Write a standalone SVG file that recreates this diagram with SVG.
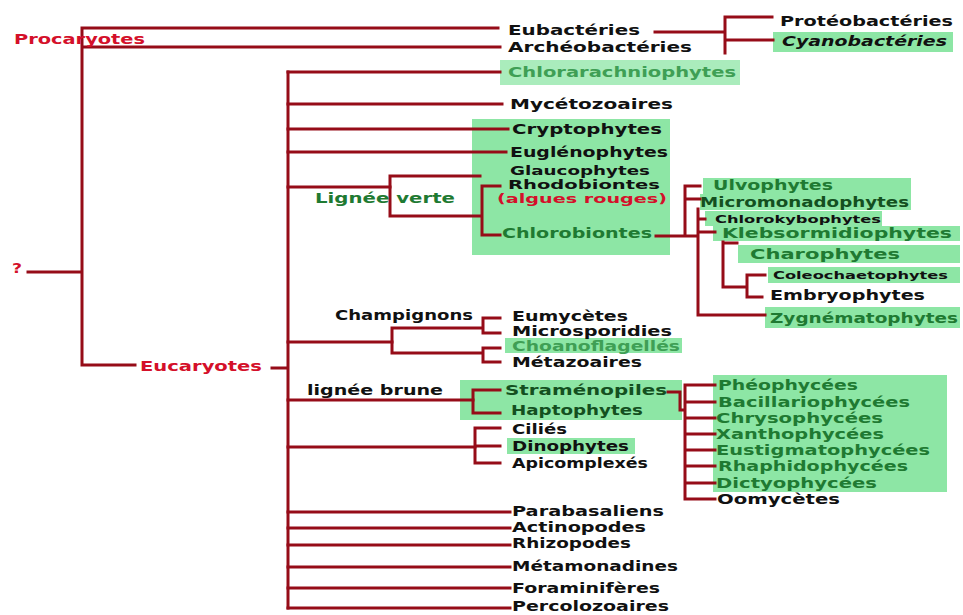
<svg xmlns="http://www.w3.org/2000/svg" width="963" height="615" viewBox="0 0 963 615">
<style>
.c path{fill:none;stroke:#960c18;stroke-width:3;stroke-linecap:square}
.bx{fill:#8de6a5}
text{font-family:"DejaVu Sans","Liberation Sans",sans-serif;font-weight:bold;font-size:14px;fill:#111}
.r{fill:#d4102a}
.g{fill:#1f7a32}
.lg{fill:#3f9f55}
.dg{fill:#14501f}
.s{font-size:11px}
.t{font-size:12.5px}
</style>
<rect width="963" height="615" fill="#fff"/>
<g id="boxes">
<rect class="bx" x="773" y="32" width="180" height="20"/>
<rect class="bx" x="500" y="60" width="240" height="25" fill-opacity="0.75"/>
<rect class="bx" x="472" y="119" width="198" height="136"/>
<rect class="bx" x="703" y="178" width="208" height="16"/>
<rect class="bx" x="700" y="194" width="211" height="16"/>
<rect class="bx" x="705" y="211" width="177" height="15"/>
<rect class="bx" x="713" y="226" width="247" height="15"/>
<rect class="bx" x="738" y="245" width="222" height="18"/>
<rect class="bx" x="768" y="267" width="192" height="16"/>
<rect class="bx" x="765" y="307" width="195" height="21"/>
<rect class="bx" x="505" y="338" width="177" height="15"/>
<rect class="bx" x="460" y="380" width="222" height="40"/>
<rect class="bx" x="507" y="438" width="128" height="16"/>
<rect class="bx" x="713" y="375" width="234" height="117"/>
</g>
<g id="connectors" class="c">
<path d="M28,272H82M82,28V365M82,28H498M82,47H500M82,365H135"/>
<path d="M655,32H725M725,17V53M725,17H772M725,40H773"/>
<path d="M272,368H288M288,72V608"/>
<path d="M288,72H500M288,104H502M288,129H508M288,152H506M288,187H390M288,342H392M288,400H473M288,447H475"/>
<path d="M288,512H510M288,528H510M288,545H510M288,567H510M288,588H510M288,608H510"/>
<path d="M390,176V216M390,176H480M390,216H482M482,186V235M482,186H500M482,235H500"/>
<path d="M656,236H698M685,186V236M685,186H700M685,199H700M698,209V315M698,219H705M698,232H715M698,315H765"/>
<path d="M723,242V287M723,243H737M723,287H747M747,275V297M747,275H765M747,297H762"/>
<path d="M392,328V353M392,328H483M392,353H483M483,318V333M483,318H500M483,333H500M483,348V362M483,348H500M483,362H500"/>
<path d="M473,390V413M473,390H500M473,413H500"/>
<path d="M668,392H680V410H685M685,385V499M685,385H715M685,402H715M685,418H715M685,434H715M685,450H715M685,466H715M685,483H715M685,499H715"/>
<path d="M475,428V463M475,428H500M475,446H500M475,463H500"/>
</g>
<g id="n-root"><text class="r" x="12" y="273" textLength="10" lengthAdjust="spacingAndGlyphs">?</text></g>
<g id="n-procaryotes"><text class="r" x="14" y="44" textLength="131" lengthAdjust="spacingAndGlyphs">Procaryotes</text></g>
<g id="n-eubacteries"><text x="508" y="35" textLength="132" lengthAdjust="spacingAndGlyphs">Eubactéries</text></g>
<g id="n-archeobacteries"><text x="508" y="52" textLength="184" lengthAdjust="spacingAndGlyphs">Archéobactéries</text></g>
<g id="n-proteobacteries"><text x="780" y="26" textLength="173" lengthAdjust="spacingAndGlyphs">Protéobactéries</text></g>
<g id="n-cyanobacteries"><text x="782" y="46" font-style="italic" textLength="165" lengthAdjust="spacingAndGlyphs">Cyanobactéries</text></g>
<g id="n-eucaryotes"><text class="r" x="140" y="371" textLength="122" lengthAdjust="spacingAndGlyphs">Eucaryotes</text></g>
<g id="n-chlorarachniophytes"><text class="lg" x="508" y="77" font-weight="normal" textLength="228" lengthAdjust="spacingAndGlyphs">Chlorarachniophytes</text></g>
<g id="n-mycetozoaires"><text x="510" y="109" textLength="163" lengthAdjust="spacingAndGlyphs">Mycétozoaires</text></g>
<g id="n-cryptophytes"><text x="512" y="134" textLength="150" lengthAdjust="spacingAndGlyphs">Cryptophytes</text></g>
<g id="n-euglenophytes"><text x="510" y="157" textLength="158" lengthAdjust="spacingAndGlyphs">Euglénophytes</text></g>
<g id="n-lignee-verte"><text class="g" x="315" y="203" textLength="140" lengthAdjust="spacingAndGlyphs">Lignée verte</text></g>
<g id="n-glaucophytes"><text class="t" x="510" y="175" textLength="140" lengthAdjust="spacingAndGlyphs">Glaucophytes</text></g>
<g id="n-rhodobiontes"><text class="t" x="508" y="189" textLength="152" lengthAdjust="spacingAndGlyphs">Rhodobiontes</text><text class="r t" x="497" y="203" textLength="170" lengthAdjust="spacingAndGlyphs">(algues rouges)</text></g>
<g id="n-chlorobiontes"><text class="g" x="502" y="238" textLength="150" lengthAdjust="spacingAndGlyphs">Chlorobiontes</text></g>
<g id="n-ulvophytes"><text class="g" x="713" y="190" textLength="120" lengthAdjust="spacingAndGlyphs">Ulvophytes</text></g>
<g id="n-micromonadophytes"><text class="dg" x="700" y="207" textLength="209" lengthAdjust="spacingAndGlyphs">Micromonadophytes</text></g>
<g id="n-chlorokybophytes"><text class="s" x="715" y="223" font-weight="normal" textLength="166" lengthAdjust="spacingAndGlyphs">Chlorokybophytes</text></g>
<g id="n-klebsormidiophytes"><text class="g" x="722" y="238" textLength="230" lengthAdjust="spacingAndGlyphs">Klebsormidiophytes</text></g>
<g id="n-charophytes"><text class="g" x="750" y="259" textLength="150" lengthAdjust="spacingAndGlyphs">Charophytes</text></g>
<g id="n-coleochaetophytes"><text class="s" x="773" y="279" textLength="175" lengthAdjust="spacingAndGlyphs">Coleochaetophytes</text></g>
<g id="n-embryophytes"><text x="770" y="300" textLength="155" lengthAdjust="spacingAndGlyphs">Embryophytes</text></g>
<g id="n-zygnematophytes"><text class="g" x="770" y="323" textLength="188" lengthAdjust="spacingAndGlyphs">Zygnématophytes</text></g>
<g id="n-champignons"><text x="335" y="320" textLength="138" lengthAdjust="spacingAndGlyphs">Champignons</text></g>
<g id="n-eumycetes"><text x="512" y="321" textLength="116" lengthAdjust="spacingAndGlyphs">Eumycètes</text></g>
<g id="n-microsporidies"><text x="512" y="336" textLength="160" lengthAdjust="spacingAndGlyphs">Microsporidies</text></g>
<g id="n-choanoflagelles"><text class="lg" x="512" y="351" font-weight="normal" textLength="168" lengthAdjust="spacingAndGlyphs">Choanoflagellés</text></g>
<g id="n-metazoaires"><text x="512" y="367" textLength="130" lengthAdjust="spacingAndGlyphs">Métazoaires</text></g>
<g id="n-lignee-brune"><text x="307" y="395" textLength="136" lengthAdjust="spacingAndGlyphs">lignée brune</text></g>
<g id="n-stramenopiles"><text class="dg" x="505" y="395" textLength="162" lengthAdjust="spacingAndGlyphs">Straménopiles</text></g>
<g id="n-haptophytes"><text class="dg" x="511" y="415" textLength="132" lengthAdjust="spacingAndGlyphs">Haptophytes</text></g>
<g id="n-cilies"><text x="512" y="434" textLength="55" lengthAdjust="spacingAndGlyphs">Ciliés</text></g>
<g id="n-dinophytes"><text x="512" y="451" textLength="117" lengthAdjust="spacingAndGlyphs">Dinophytes</text></g>
<g id="n-apicomplexes"><text x="512" y="468" textLength="136" lengthAdjust="spacingAndGlyphs">Apicomplexés</text></g>
<g id="n-pheophycees"><text class="g" x="718" y="390" textLength="140" lengthAdjust="spacingAndGlyphs">Phéophycées</text></g>
<g id="n-bacillariophycees"><text class="g" x="718" y="407" textLength="192" lengthAdjust="spacingAndGlyphs">Bacillariophycées</text></g>
<g id="n-chrysophycees"><text class="g" x="716" y="423" textLength="167" lengthAdjust="spacingAndGlyphs">Chrysophycées</text></g>
<g id="n-xanthophycees"><text class="g" x="716" y="439" textLength="168" lengthAdjust="spacingAndGlyphs">Xanthophycées</text></g>
<g id="n-eustigmatophycees"><text class="g" x="716" y="455" textLength="214" lengthAdjust="spacingAndGlyphs">Eustigmatophycées</text></g>
<g id="n-rhaphidophycees"><text class="g" x="718" y="471" textLength="190" lengthAdjust="spacingAndGlyphs">Rhaphidophycées</text></g>
<g id="n-dictyophycees"><text class="g" x="716" y="488" textLength="161" lengthAdjust="spacingAndGlyphs">Dictyophycées</text></g>
<g id="n-oomycetes"><text x="717" y="504" textLength="123" lengthAdjust="spacingAndGlyphs">Oomycètes</text></g>
<g id="n-parabasaliens"><text x="512" y="516" textLength="152" lengthAdjust="spacingAndGlyphs">Parabasaliens</text></g>
<g id="n-actinopodes"><text x="512" y="532" textLength="134" lengthAdjust="spacingAndGlyphs">Actinopodes</text></g>
<g id="n-rhizopodes"><text x="512" y="548" textLength="119" lengthAdjust="spacingAndGlyphs">Rhizopodes</text></g>
<g id="n-metamonadines"><text x="512" y="571" textLength="166" lengthAdjust="spacingAndGlyphs">Métamonadines</text></g>
<g id="n-foraminiferes"><text x="512" y="593" textLength="148" lengthAdjust="spacingAndGlyphs">Foraminifères</text></g>
<g id="n-percolozoaires"><text x="512" y="611" textLength="157" lengthAdjust="spacingAndGlyphs">Percolozoaires</text></g>
</svg>
